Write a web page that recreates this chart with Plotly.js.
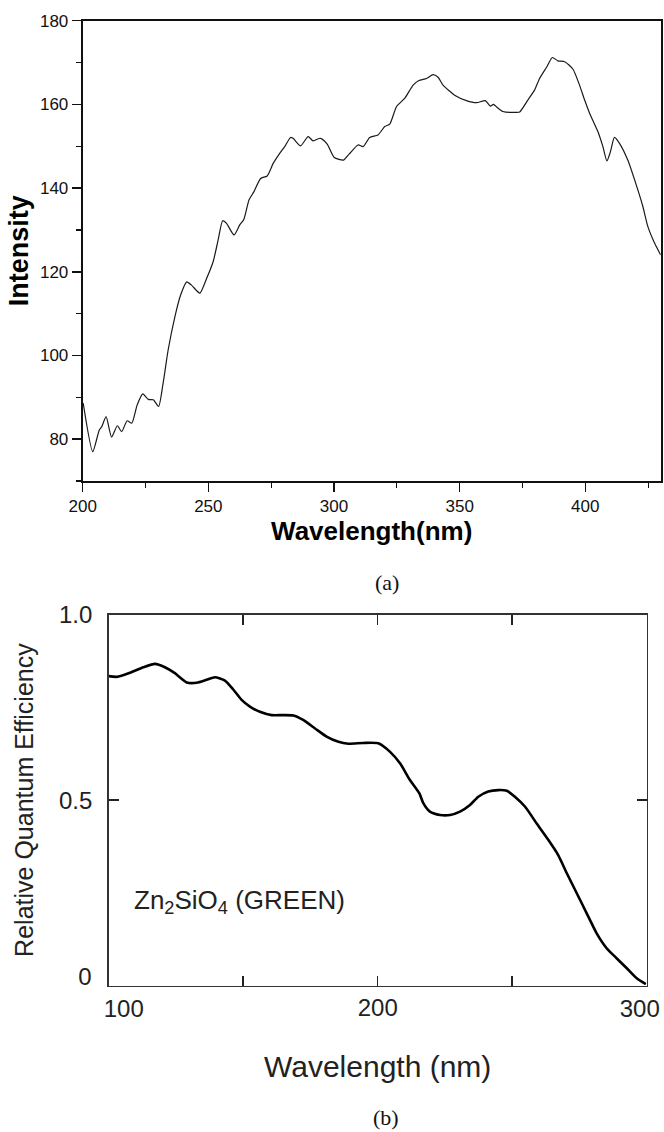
<!DOCTYPE html>
<html>
<head>
<meta charset="utf-8">
<script src="https://cdn.plot.ly/plotly-3.0.1.min.js"></script>
<style>
  html, body { margin: 0; padding: 0; background: #fff; }
  #chart { width: 664px; height: 1132px; }
</style>
</head>
<body>
<div id="chart"></div>
<script>
// ---- Panel (a): excitation intensity spectrum ----
const wavelengthA = [200.2, 204.0, 206.6, 207.6, 209.3, 211.5, 213.8, 215.5, 217.7, 219.5,
  221.7, 223.9, 226.1, 228.1, 230.2, 232.0, 234.0, 236.7, 239.0, 241.4,
  243.3, 246.6, 249.3, 251.9, 253.9, 255.7, 257.3, 260.2, 262.5, 264.1,
  266.2, 268.1, 270.8, 273.4, 275.8, 278.4, 280.4, 282.7, 283.7, 286.7,
  289.7, 291.7, 294.6, 297.3, 300.1, 303.8, 306.0, 309.6, 311.6, 314.2,
  317.5, 320.2, 322.2, 324.9, 328.2, 331.5, 333.8, 336.8, 339.4, 341.4,
  343.4, 348.0, 352.7, 356.7, 360.2, 362.2, 363.4, 364.3, 367.2, 372.6,
  373.9, 377.2, 379.8, 381.8, 384.7, 386.9, 389.1, 391.8, 395.1, 397.7,
  399.7, 401.7, 405.0, 407.0, 408.6, 410.0, 411.6, 413.6, 416.9, 420.3,
  422.9, 424.9, 427.6, 430.0];
const intensityA = [88.6, 77.0, 82.2, 83.0, 85.4, 80.5, 83.2, 81.8, 84.4, 83.8,
  88.2, 90.8, 89.5, 89.4, 87.8, 93.4, 101.3, 109.3, 114.5, 117.6,
  116.8, 114.9, 118.4, 122.4, 127.6, 132.2, 131.5, 128.8, 131.2, 132.5,
  137.2, 139.1, 142.3, 142.9, 145.9, 148.3, 149.9, 152.1, 151.9, 150.1,
  152.3, 151.3, 151.9, 150.5, 147.3, 146.7, 148.1, 150.3, 149.9, 152.1,
  152.7, 154.7, 155.3, 159.5, 161.5, 164.6, 165.7, 166.2, 167.1, 166.5,
  164.6, 162.2, 160.9, 160.4, 160.9, 159.6, 160.0, 159.6, 158.3, 158.1,
  158.2, 161.1, 163.4, 166.2, 169.0, 171.2, 170.4, 170.2, 168.4, 164.6,
  161.1, 157.9, 153.5, 149.9, 146.5, 148.7, 152.1, 150.7, 146.7, 140.7,
  135.6, 130.8, 126.8, 124.0];
const xTicksA = [200, 250, 300, 350, 400];
const yTicksA = [80, 100, 120, 140, 160, 180];

// ---- Panel (b): relative quantum efficiency of Zn2SiO4 ----
const wavelengthB = [99.9, 103.0, 107.9, 112.9, 117.2, 120.9, 124.6, 129.0, 132.7, 136.4,
  139.5, 143.2, 146.3, 149.4, 152.5, 156.2, 160.6, 164.9, 168.6, 172.3,
  176.7, 181.0, 185.4, 189.1, 194.6, 200.2, 204.6, 208.3, 212.0, 215.5,
  217.0, 219.4, 223.2, 226.9, 230.6, 234.3, 237.4, 241.1, 244.8, 248.0,
  251.0, 254.8, 259.1, 263.4, 267.1, 270.3, 274.0, 277.7, 281.4, 285.1,
  288.8, 292.6, 296.3, 299.7];
const efficiencyB = [0.834, 0.832, 0.843, 0.858, 0.867, 0.858, 0.842, 0.817, 0.816, 0.824,
  0.831, 0.822, 0.798, 0.770, 0.752, 0.738, 0.729, 0.729, 0.728, 0.716,
  0.693, 0.671, 0.657, 0.652, 0.654, 0.653, 0.630, 0.599, 0.554, 0.518,
  0.491, 0.469, 0.460, 0.460, 0.469, 0.487, 0.509, 0.523, 0.527, 0.525,
  0.509, 0.482, 0.437, 0.393, 0.352, 0.303, 0.249, 0.195, 0.141, 0.101,
  0.074, 0.047, 0.020, 0.004];
const xMinorTicksB = [150, 250];
const xLabelB1 = [100], xLabelText1 = ['100'];
const xLabelB2 = [200], xLabelText2 = ['200'];
const xLabelB3 = [300], xLabelText3 = ['300'];
const yTicksB = [0.5, 1.0], yTickTextB = ['0.5', '1.0'];
const yZeroB = [0], yZeroText = ['0'];

const sans = 'Liberation Sans, Arial, Helvetica, sans-serif';
const serif = 'Liberation Serif, Times New Roman, serif';

const traces = [
  {
    x: wavelengthA, y: intensityA, type: 'scatter', mode: 'lines',
    xaxis: 'x', yaxis: 'y',
    line: { color: '#1a1a1a', width: 1.2, shape: 'spline', smoothing: 0.6 },
    hoverinfo: 'skip'
  },
  {
    x: wavelengthB, y: efficiencyB, type: 'scatter', mode: 'lines',
    xaxis: 'x2', yaxis: 'y2',
    line: { color: '#000', width: 2.6, shape: 'spline', smoothing: 0.6 },
    hoverinfo: 'skip'
  },
  // empty helper traces so the label-only overlay axes exist
  { x: [], y: [], type: 'scatter', mode: 'lines', xaxis: 'x3', yaxis: 'y2', hoverinfo: 'skip' },
  { x: [], y: [], type: 'scatter', mode: 'lines', xaxis: 'x4', yaxis: 'y2', hoverinfo: 'skip' },
  { x: [], y: [], type: 'scatter', mode: 'lines', xaxis: 'x2', yaxis: 'y3', hoverinfo: 'skip' }
];

const W = 664, H = 1132;
const domXB = [108.7 / W, 646.7 / W];
const domYB = [1 - 985.7 / H, 1 - 614.5 / H];
const fontB = { family: sans, size: 24, color: '#222' };

function labelAxisX(vals, text, shift) {
  return {
    overlaying: 'x2', anchor: 'y2', side: 'bottom',
    range: [100, 300], tickvals: vals, ticktext: text,
    ticks: '', showline: false, showgrid: false, zeroline: false,
    ticklabelshift: shift, ticklabelstandoff: 6, ticklabeloverflow: 'allow',
    tickfont: fontB
  };
}

const layout = {
  width: W, height: H,
  margin: { l: 0, r: 0, t: 0, b: 0 },
  paper_bgcolor: '#fff', plot_bgcolor: '#fff',
  showlegend: false,
  xaxis: {
    domain: [82.7 / W, 660.7 / W], anchor: 'y',
    range: [200, 430], tickvals: xTicksA,
    ticks: 'outside', ticklen: 9, tickwidth: 1.5, tickcolor: '#111',
    minor: { dtick: 25, tick0: 200, ticks: 'outside', ticklen: 5, tickwidth: 1.2, tickcolor: '#111', showgrid: false },
    showline: true, linewidth: 2, linecolor: '#111', mirror: true,
    showgrid: false, zeroline: false,
    tickfont: { family: sans, size: 17, color: '#111' },
    title: { text: '<b>Wavelength(nm)</b>', font: { family: sans, size: 26, color: '#000' }, standoff: 2 }
  },
  yaxis: {
    domain: [1 - 481 / H, 1 - 20.7 / H], anchor: 'x',
    range: [70, 180], tickvals: yTicksA,
    ticks: 'outside', ticklen: 9, tickwidth: 1.5, tickcolor: '#111',
    minor: { dtick: 10, tick0: 70, ticks: 'outside', ticklen: 5, tickwidth: 1.2, tickcolor: '#111', showgrid: false },
    showline: true, linewidth: 2, linecolor: '#111', mirror: true,
    showgrid: false, zeroline: false,
    tickfont: { family: sans, size: 17, color: '#111' },
    title: { text: '<b>Intensity</b>', font: { family: sans, size: 27, color: '#000' }, standoff: 3 }
  },
  xaxis2: {
    domain: domXB, anchor: 'y2',
    range: [100, 300], tickvals: xLabelB2, ticktext: xLabelText2,
    ticks: 'inside', ticklen: 10, tickwidth: 1.5, tickcolor: '#222',
    minor: { tickvals: xMinorTicksB, ticks: 'inside', ticklen: 10, tickwidth: 1.5, tickcolor: '#222', showgrid: false },
    showline: true, linewidth: 1.5, linecolor: '#333', mirror: 'ticks',
    showgrid: false, zeroline: false,
    ticklabelstandoff: 0,
    tickfont: fontB,
    title: { text: 'Wavelength (nm)', font: { family: sans, size: 30, color: '#222' }, standoff: 36 }
  },
  xaxis3: labelAxisX(xLabelB1, xLabelText1, 15),
  xaxis4: labelAxisX(xLabelB3, xLabelText3, -7),
  yaxis2: {
    domain: domYB, anchor: 'x2',
    range: [0, 1], tickvals: yTicksB, ticktext: yTickTextB,
    ticks: 'inside', ticklen: 10, tickwidth: 1.5, tickcolor: '#222',
    showline: true, linewidth: 1.5, linecolor: '#333', mirror: 'ticks',
    showgrid: false, zeroline: false,
    ticklabelstandoff: 10,
    tickfont: fontB,
    title: { text: 'Relative Quantum Efficiency', font: { family: sans, size: 25, color: '#222' }, standoff: 18 }
  },
  yaxis3: {
    overlaying: 'y2', anchor: 'x2', side: 'left',
    range: [0, 1], tickvals: yZeroB, ticktext: yZeroText,
    ticks: '', showline: false, showgrid: false, zeroline: false,
    ticklabelshift: -9, ticklabelstandoff: 16, ticklabeloverflow: 'allow',
    tickfont: fontB
  },
  annotations: [
    {
      text: 'Zn<sub>2</sub>SiO<sub>4</sub> (GREEN)', xref: 'x2', yref: 'y2',
      x: 108.6, y: 0.2255, xanchor: 'left', yanchor: 'middle', showarrow: false,
      font: { family: sans, size: 26, color: '#222' }
    },
    {
      text: '(a)', xref: 'paper', yref: 'paper', x: 387 / W, y: 1 - 582 / H,
      xanchor: 'center', yanchor: 'middle', showarrow: false,
      font: { family: serif, size: 22, color: '#111' }
    },
    {
      text: '(b)', xref: 'paper', yref: 'paper', x: 385.5 / W, y: 1 - 1117 / H,
      xanchor: 'center', yanchor: 'middle', showarrow: false,
      font: { family: serif, size: 22, color: '#111' }
    }
  ]
};

Plotly.newPlot('chart', traces, layout, { staticPlot: true, displayModeBar: false });
</script>
</body>
</html>
